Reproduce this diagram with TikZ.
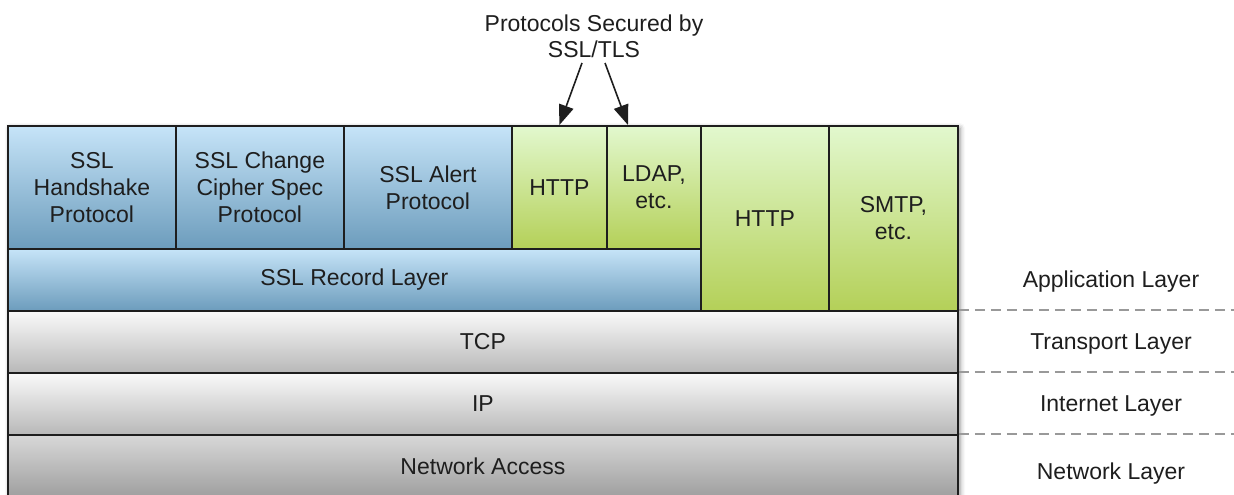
\documentclass[tikz,border=0pt]{standalone}
\usepackage{fontspec}
\setmainfont{Liberation Sans}
\usetikzlibrary{arrows.meta,shadows.blur,calc}
\definecolor{bluetop}{RGB}{198,228,248}
\definecolor{bluebot}{RGB}{108,156,188}
\definecolor{greentop}{RGB}{226,248,206}
\definecolor{greenbot}{RGB}{180,208,88}
\definecolor{graytop}{RGB}{250,250,250}
\definecolor{graybot}{RGB}{184,184,184}
\definecolor{dgraytop}{RGB}{216,216,216}
\definecolor{dgraybot}{RGB}{158,158,158}
\definecolor{ink}{RGB}{30,30,30}
\begin{document}
\begin{tikzpicture}[x=1pt,y=-1pt,
  lbl/.style={font=\fontsize{23}{27}\selectfont, text=ink, align=center, inner sep=0pt},
  cell/.style={lbl, draw=ink, line width=1.8pt, anchor=north west},
  bluecell/.style={cell, top color=bluetop, bottom color=bluebot},
  greencell/.style={cell, top color=greentop, bottom color=greenbot},
  graycell/.style={cell, top color=graytop, bottom color=graybot},
  dgraycell/.style={cell, top color=dgraytop, bottom color=dgraybot},
  dashline/.style={draw=black!40, line width=2pt, dash pattern=on 10pt off 6pt},
  arr/.style={draw=ink, line width=1.6pt, -{Triangle[length=20pt,width=15pt]}}
]
\useasboundingbox (0,0) rectangle (1234,495);
\path[fill=white, blur shadow={shadow xshift=3pt, shadow yshift=-3pt, shadow blur radius=5pt, shadow opacity=45}] (7,125) rectangle (957,497);

\node[bluecell, minimum width=168pt, minimum height=123pt] (hs) at (7,125) {SSL\\Handshake\\Protocol};
\node[bluecell, minimum width=168pt, minimum height=123pt] (ccs) at (175,125) {SSL Change\\Cipher Spec\\Protocol};
\node[bluecell, minimum width=168pt, minimum height=123pt] (alert) at (343,125) {SSL Alert\\Protocol};
\node[greencell, minimum width=95pt, minimum height=123pt] (http1) at (511,125) {HTTP};
\node[greencell, minimum width=94pt, minimum height=123pt] (ldap) at (606,125) {LDAP,\\etc.};
\node[bluecell, minimum width=693pt, minimum height=62pt] (rec) at (7,248) {\raisebox{-2pt}{SSL Record Layer}};
\node[greencell, minimum width=128pt, minimum height=185pt] (http2) at (700,125) {HTTP};
\node[greencell, minimum width=129pt, minimum height=185pt] (smtp) at (828,125) {SMTP,\\etc.};
\node[graycell, minimum width=950pt, minimum height=62pt] (tcp) at (7,310) {TCP};
\node[graycell, minimum width=950pt, minimum height=62pt] (ip) at (7,372) {IP};
\node[dgraycell, minimum width=950pt, minimum height=63pt] (na) at (7,434) {Network Access};

\coordinate (d1) at (1234,310);
\coordinate (d2) at (1234,372);
\coordinate (d3) at (1234,434);
\draw[dashline] (tcp.north east) -- (d1);
\draw[dashline] (ip.north east) -- (d2);
\draw[dashline] (na.north east) -- (d3);

\node[lbl] (appl) at (1111,282) {Application Layer};
\node[lbl] (trl) at (1111,344) {Transport Layer};
\node[lbl] (inl) at (1111,406) {Internet Layer};
\node[lbl] (nwl) at (1111,474) {Network Layer};

\node[lbl, font=\fontsize{23}{26}\selectfont] (sec) at (594,36) {Protocols Secured by\\SSL/TLS};
\coordinate (a1) at (582,63);
\coordinate (a2) at (605,63);
\coordinate (t2) at ($(ldap.north west)+(22,0)$);
\draw[arr] (a1) -- (http1.north);
\draw[arr] (a2) -- (t2);
\end{tikzpicture}
\end{document}
